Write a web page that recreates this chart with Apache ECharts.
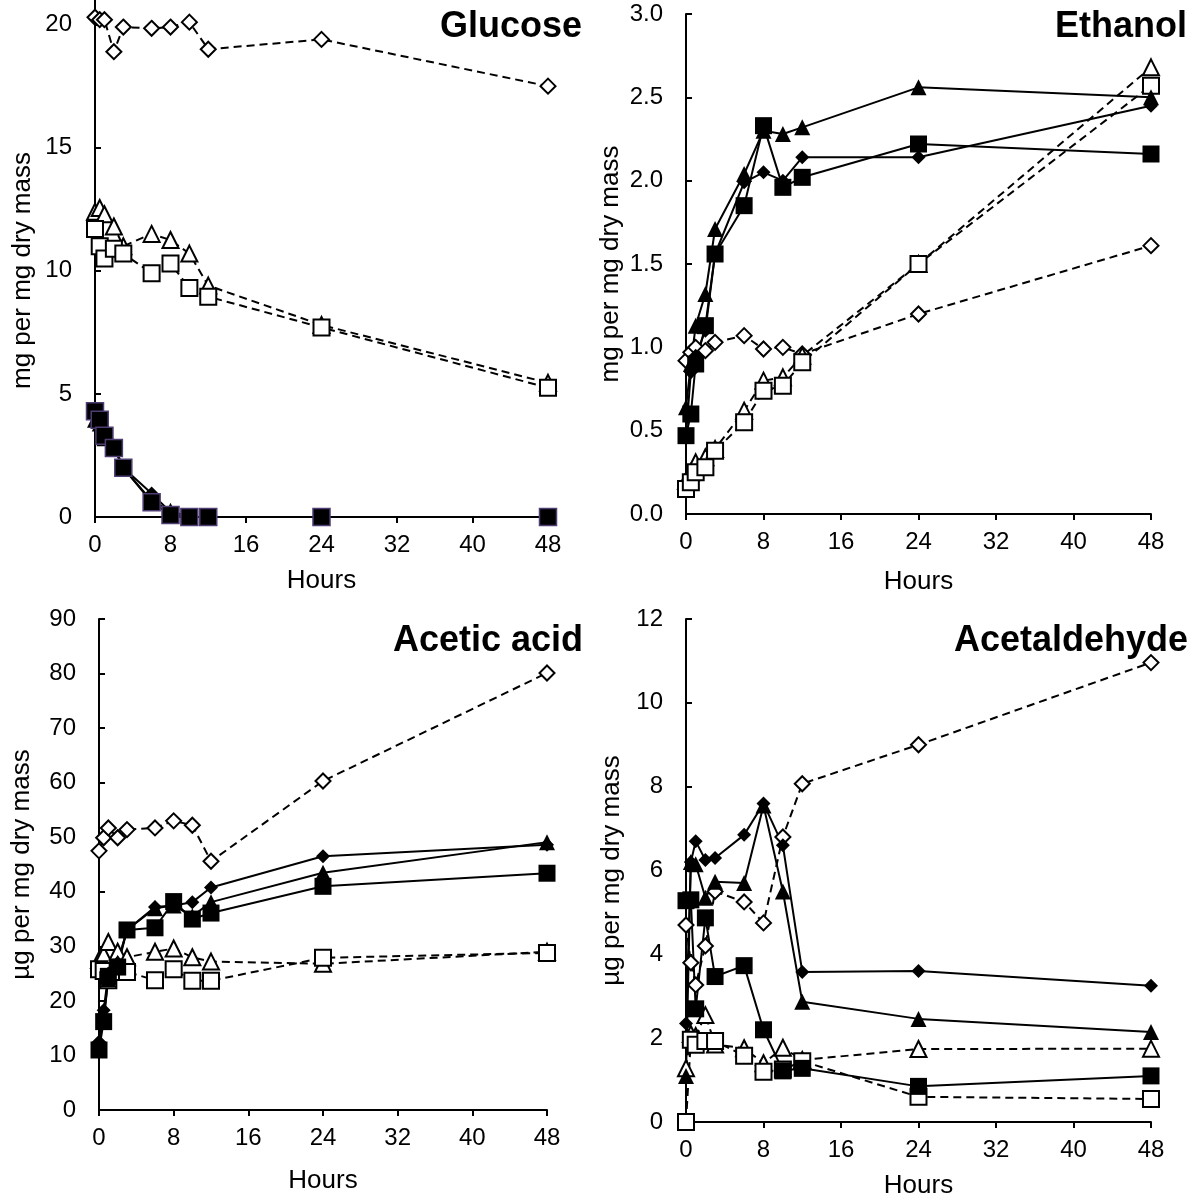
<!DOCTYPE html>
<html><head><meta charset="utf-8">
<script src="https://cdn.jsdelivr.net/npm/echarts@6/dist/echarts.min.js"></script>
<style>html,body{margin:0;padding:0;background:#fff}#c{width:1200px;height:1202px}</style>
</head><body><div id="c"></div>
<script>
const hours = [0, 0.5, 1, 2, 3, 6, 8, 10, 12, 24, 48];
const xTicks = [0, 8, 16, 24, 32, 40, 48];

// Glucose (mg per mg dry mass)
const glcFilledDiamond = [4.3, 4.0, 3.4, 2.9, 2.0, 0.95, 0.2, 0, 0, 0, 0];
const glcFilledTriangle = [3.95, 3.8, 3.2, 2.85, 2.0, 0.65, 0.25, 0, 0, 0, 0];
const glcFilledSquare = [4.3, 3.95, 3.3, 2.8, 2.0, 0.6, 0.08, 0, 0, 0, 0];
const glcOpenDiamond = [20.3, 20.2, 20.2, 18.9, 19.9, 19.85, 19.9, 20.1, 19.0, 19.4, 17.5];
const glcOpenTriangle = [12.4, 12.55, 12.3, 11.8, 11.0, 11.5, 11.25, 10.7, 9.4, 7.8, 5.45];
const glcOpenSquare = [11.7, 11.0, 10.5, 10.9, 10.7, 9.9, 10.3, 9.3, 8.95, 7.7, 5.25];
const glcTicks = [0, 5, 10, 15, 20];

// Ethanol (mg per mg dry mass)
const etoFilledDiamond = [0.47, 0.85, 0.95, 1.1, 1.56, 1.99, 2.05, 2.0, 2.14, 2.14, 2.45];
const etoFilledTriangle = [0.64, 0.9, 1.13, 1.32, 1.71, 2.04, 2.3, 2.28, 2.32, 2.56, 2.5];
const etoFilledSquare = [0.47, 0.6, 0.9, 1.13, 1.56, 1.85, 2.33, 1.96, 2.02, 2.22, 2.16];
const etoOpenDiamond = [0.92, 0.97, 1.0, 0.98, 1.03, 1.07, 0.99, 1.0, 0.96, 1.2, 1.61];
const etoOpenTriangle = [0.2, 0.25, 0.31, 0.34, 0.39, 0.62, 0.8, 0.82, 0.95, 1.5, 2.68];
const etoOpenSquare = [0.15, 0.19, 0.25, 0.28, 0.38, 0.55, 0.74, 0.77, 0.91, 1.5, 2.57];

// Acetic acid (µg per mg dry mass)
const aceFilledDiamond = [12.5, 18.3, 25, 27, 33, 37.2, 37.5, 38.1, 40.8, 46.5, 48.6];
const aceFilledTriangle = [12, 17, 24, 27, 33, 37, 37.5, 35.5, 38.1, 43.5, 49.1];
const aceFilledSquare = [11, 16.2, 24.5, 26.2, 33, 33.4, 38.2, 35, 36.1, 41, 43.4];
const aceOpenDiamond = [47.5, 49.9, 51.7, 49.9, 51.4, 51.7, 53, 52.2, 45.6, 60.3, 80.1];
const aceOpenTriangle = [27.5, 28.5, 30.8, 29, 28, 29, 29.6, 28, 27.2, 26.8, 29];
const aceOpenSquare = [25.8, 25.5, 23.8, 25.3, 25.3, 23.8, 25.8, 23.7, 23.7, 27.9, 28.8];

// Acetaldehyde (µg per mg dry mass)
const aldFilledDiamond = [2.35, 6.2, 6.7, 6.25, 6.3, 6.85, 7.6, 6.6, 3.58, 3.6, 3.25];
const aldFilledTriangle = [1.1, 6.2, 6.15, 5.35, 5.73, 5.7, 7.55, 5.5, 2.87, 2.46, 2.15];
const aldFilledSquare = [5.28, 5.3, 2.7, 4.87, 3.47, 3.73, 2.2, 1.22, 1.28, 0.85, 1.1];
const aldOpenDiamond = [4.7, 3.8, 3.27, 4.2, 5.5, 5.25, 4.75, 6.8, 8.07, 9.0, 10.96];
const aldOpenTriangle = [1.28, 2.1, 2.05, 2.55, 1.85, 1.76, 1.4, 1.77, 1.48, 1.74, 1.75];
const aldOpenSquare = [0, 1.96, 1.84, 1.93, 1.93, 1.58, 1.2, 1.25, 1.45, 0.6, 0.55];

const titles = ['Glucose', 'Ethanol', 'Acetic acid', 'Acetaldehyde'];
const yNames = ['mg per mg dry mass', 'mg per mg dry mass', 'µg per mg dry mass', 'µg per mg dry mass'];
const xName = 'Hours';

const FONT = '"Liberation Sans", Arial, sans-serif';

const panels = [
  {fd: glcFilledDiamond, ft: glcFilledTriangle, fs: glcFilledSquare, od: glcOpenDiamond, ot: glcOpenTriangle, os: glcOpenSquare, sqBorder: '#4e3d72'},
  {fd: etoFilledDiamond, ft: etoFilledTriangle, fs: etoFilledSquare, od: etoOpenDiamond, ot: etoOpenTriangle, os: etoOpenSquare},
  {fd: aceFilledDiamond, ft: aceFilledTriangle, fs: aceFilledSquare, od: aceOpenDiamond, ot: aceOpenTriangle, os: aceOpenSquare},
  {fd: aldFilledDiamond, ft: aldFilledTriangle, fs: aldFilledSquare, od: aldOpenDiamond, ot: aldOpenTriangle, os: aldOpenSquare}
];

const grids = [
  {left: 95, width: 453, top: 0, height: 517},
  {left: 686, width: 465, top: 14, height: 500},
  {left: 99, width: 448, top: 619, height: 491},
  {left: 686, width: 465, top: 619, height: 503}
];
const yCfg = [
  {min: 0, max: 21, interval: 5, custom: glcTicks, fmt: v => String(v), gap: 59, pad: [0, 24, 0, 0]},
  {min: 0, max: 3, interval: 0.5, fmt: v => v.toFixed(1), gap: 62},
  {min: 0, max: 90, interval: 10, fmt: v => String(v), gap: 64},
  {min: 0, max: 12, interval: 2, fmt: v => String(v), gap: 61}
];
const xGaps = [51, 55, 58, 51];

const axisLine = {show: true, onZero: false, lineStyle: {color: '#000', width: 2}};

const xAxis = grids.map((g, i) => ({
  type: 'value', gridIndex: i, min: 0, max: 48, interval: 8,
  axisLine, splitLine: {show: false},
  axisTick: {show: true, inside: false, length: 6, lineStyle: {color: '#000', width: 2}},
  axisLabel: {margin: 16, fontSize: 24, color: '#000', fontFamily: FONT},
  name: xName, nameLocation: 'middle', nameGap: xGaps[i],
  nameTextStyle: {fontSize: 26, color: '#000', fontFamily: FONT}
}));

const yAxis = yCfg.map((c, i) => {
  const a = {
    type: 'value', gridIndex: i, min: c.min, max: c.max, interval: c.interval,
    axisLine, splitLine: {show: false},
    axisTick: {show: true, inside: true, length: 6, lineStyle: {color: '#000', width: 2}},
    axisLabel: {margin: 23, fontSize: 24, color: '#000', fontFamily: FONT, formatter: c.fmt},
    name: yNames[i], nameLocation: 'middle', nameGap: c.gap, nameRotate: 90,
    nameTextStyle: {fontSize: 26, color: '#000', fontFamily: FONT, padding: c.pad || 0}
  };
  if (c.custom) {
    a.axisTick.customValues = c.custom;
    a.axisLabel.customValues = c.custom;
  }
  return a;
});

const series = [];
function add(i, vals, symbol, size, filled, dashed, border) {
  series.push({
    type: 'line', xAxisIndex: i, yAxisIndex: i,
    data: hours.map((h, k) => [h, vals[k]]),
    symbol, symbolSize: size, showSymbol: true, clip: false,
    lineStyle: {color: '#000', width: 2, type: dashed ? [8, 5] : 'solid'},
    itemStyle: filled
      ? {color: '#000', borderColor: border || '#000', borderWidth: border ? 1.5 : 0}
      : {color: '#fff', borderColor: '#000', borderWidth: 2},
    emphasis: {disabled: true}, animation: false
  });
}
panels.forEach((p, i) => {
  add(i, p.od, 'diamond', 15, false, true);
  add(i, p.ot, 'triangle', 16, false, true);
  add(i, p.os, 'rect', 16, false, true);
  add(i, p.fd, 'diamond', 14, true, false);
  add(i, p.ft, 'triangle', 16, true, false);
  add(i, p.fs, 'rect', 17, true, false, p.sqBorder);
});

const titleRight = [618, 13, 617, 12];
const titleTop = [9, 9, 623, 623];
const title = titles.map((t, i) => ({
  text: t, right: titleRight[i], top: titleTop[i], padding: 0,
  textStyle: {fontSize: 36, fontWeight: 'bold', color: '#000', fontFamily: FONT}
}));

const chart = echarts.init(document.getElementById('c'), null, {renderer: 'canvas'});
chart.setOption({
  backgroundColor: '#fff', animation: false,
  title, grid: grids, xAxis, yAxis, series
});
</script></body></html>
